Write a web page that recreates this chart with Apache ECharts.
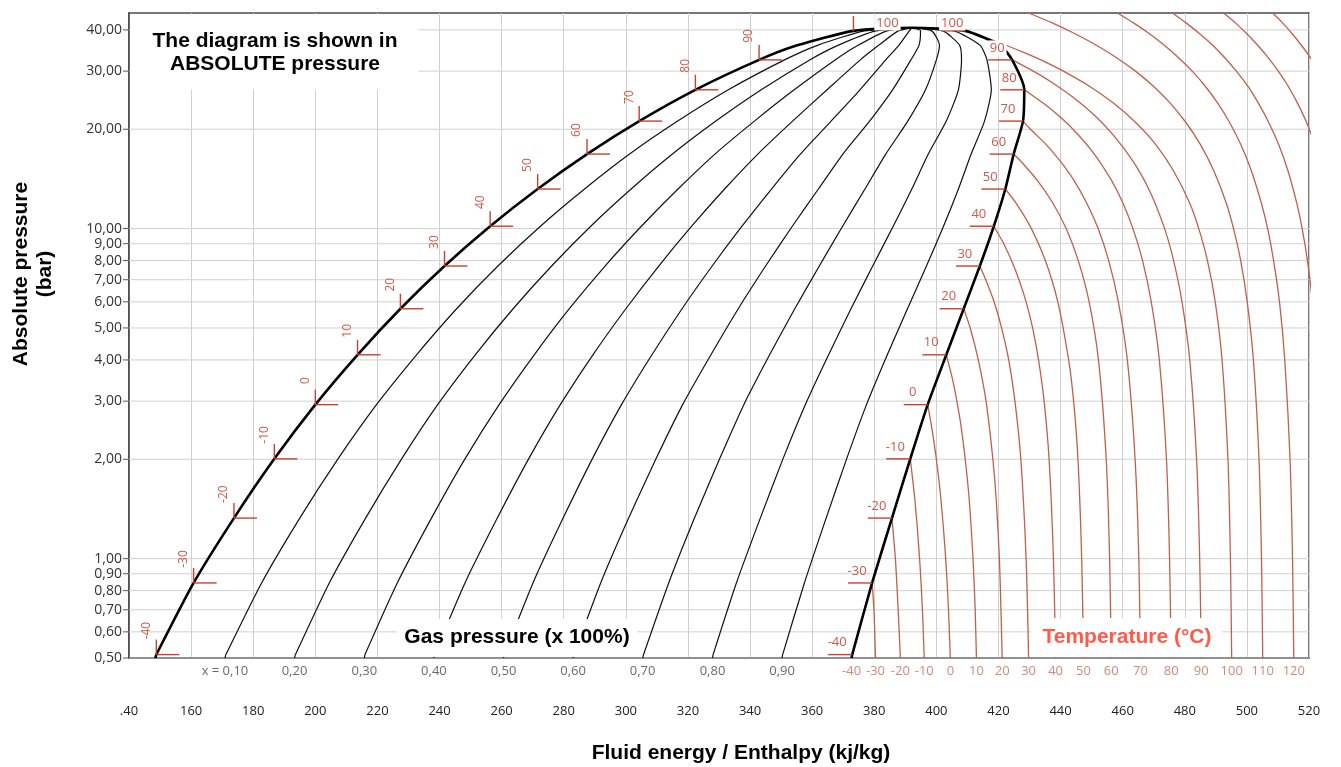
<!DOCTYPE html>
<html>
<head>
<meta charset="utf-8">
<script src="https://cdn.jsdelivr.net/npm/echarts/dist/echarts.min.js"></script>
<style>
html,body{margin:0;padding:0;background:#fff;}
#chart{width:1341px;height:767px;}
</style>
</head>
<body>
<div id="chart"></div>
<script>
// ---------- DATA (R134a pressure-enthalpy diagram) ----------
// Pressure grid / tick labels (bar, absolute)
const pressureTicks = [0.5, 0.6, 0.7, 0.8, 0.9, 1, 2, 3, 4, 5, 6, 7, 8, 9, 10, 20, 30, 40];

// Saturation table: temperature (°C), pressure (bar), liquid & vapour enthalpy (kJ/kg)
const satT  = [-40.3, -40, -30, -20, -10, 0, 10, 20, 30, 40, 50, 60, 70, 80, 90, 95, 100];
const satP  = [0.50, 0.512, 0.844, 1.327, 2.006, 2.928, 4.146, 5.717, 7.702, 10.166, 13.179, 16.818, 21.168, 26.332, 32.442, 35.912, 39.724];
const satHl = [148.5, 148.8, 160.8, 173.8, 186.8, 200.0, 213.6, 227.4, 241.6, 256.3, 271.6, 287.5, 304.3, 322.4, 342.9, 355.2, 373.3];
const satHv = [372.7, 372.9, 379.3, 385.7, 391.6, 397.2, 403.2, 408.8, 414.0, 418.5, 422.2, 424.9, 427.9, 428.3, 424.4, 420.6, 409.3];
const critH = 392.0;
const critP = 40.59;

// Constant-quality lines (enthalpy at each saturation pressure above)
const qualityNames = ['x = 0,10', '0,20', '0,30', '0,40', '0,50', '0,60', '0,70', '0,80', '0,90'];
const q10 = [170.9, 171.2, 182.7, 195.0, 207.3, 219.7, 232.6, 245.5, 258.8, 272.5, 286.7, 301.2, 316.7, 333.0, 351.1, 361.7, 376.9];
const q20 = [193.3, 193.6, 204.5, 216.2, 227.8, 239.4, 251.5, 263.7, 276.1, 288.7, 301.7, 315.0, 329.0, 343.6, 359.2, 368.3, 380.5];
const q30 = [215.8, 216.0, 226.4, 237.4, 248.2, 259.2, 270.5, 281.8, 293.3, 305.0, 316.8, 328.7, 341.4, 354.2, 367.4, 374.8, 384.1];
const q40 = [238.2, 238.4, 248.2, 258.6, 268.7, 278.9, 289.4, 300.0, 310.6, 321.2, 331.8, 342.5, 353.7, 364.8, 375.5, 381.4, 387.7];
const q50 = [260.6, 260.9, 270.1, 279.8, 289.2, 298.6, 308.4, 318.1, 327.8, 337.4, 346.9, 356.2, 366.1, 375.4, 383.7, 387.9, 391.3];
const q60 = [283.0, 283.3, 291.9, 300.9, 309.7, 318.3, 327.4, 336.2, 345.0, 353.6, 362.0, 369.9, 378.5, 385.9, 391.8, 394.4, 394.9];
const q70 = [305.4, 305.7, 313.8, 322.1, 330.2, 338.0, 346.3, 354.4, 362.3, 369.8, 377.0, 383.7, 390.8, 396.5, 400.0, 401.0, 398.5];
const q80 = [327.9, 328.1, 335.6, 343.3, 350.6, 357.8, 365.3, 372.5, 379.5, 386.1, 392.1, 397.4, 403.2, 407.1, 408.1, 407.5, 402.1];
const q90 = [350.3, 350.5, 357.5, 364.5, 371.1, 377.5, 384.2, 390.7, 396.8, 402.3, 407.1, 411.2, 415.5, 417.7, 416.3, 414.1, 405.7];

// Isotherms in the vapour region: [enthalpy, pressure]
const isoT = [-30, -20, -10, 0, 10, 20, 30, 40, 50, 60, 70, 80, 90, 100, 110, 120, 130, 140, 150];
const iso_m30 = [[379.3, 0.844], [379.9, 0.7], [380.4, 0.5]];
const iso_m20 = [[385.7, 1.327], [386.8, 1.0], [387.7, 0.7], [388.4, 0.5]];
const iso_m10 = [[391.6, 2.006], [393.1, 1.5], [394.6, 1.0], [395.5, 0.7], [396.1, 0.5]];
const iso_0   = [[397.2, 2.928], [398.5, 2.5], [400.0, 2.0], [401.5, 1.5], [403.0, 1.0], [403.9, 0.7], [404.5, 0.5]];
const iso_10  = [[403.2, 4.146], [405.2, 3.5], [406.6, 3.0], [408.0, 2.5], [409.3, 2.0], [410.6, 1.5], [411.8, 1.0], [412.5, 0.7], [412.9, 0.5]];
const iso_20  = [[408.8, 5.717], [410.9, 5.0], [413.5, 4.0], [416.0, 3.0], [418.2, 2.0], [419.3, 1.5], [420.3, 1.0], [420.8, 0.7], [421.2, 0.5]];
const iso_30  = [[414.0, 7.702], [415.9, 7.0], [418.6, 6.0], [421.0, 5.0], [423.3, 4.0], [425.3, 3.0], [427.2, 2.0], [428.9, 1.0], [429.7, 0.5]];
const iso_40  = [[418.5, 10.166], [421.7, 9.0], [424.2, 8.0], [426.6, 7.0], [428.9, 6.0], [431.0, 5.0], [432.9, 4.0], [434.7, 3.0], [436.3, 2.0], [437.7, 1.0], [438.4, 0.5]];
const iso_50  = [[422.2, 13.179], [425.5, 12.0], [430.6, 10.0], [435.1, 8.0], [439.1, 6.0], [442.6, 4.0], [444.2, 3.0], [445.6, 2.0], [446.8, 1.0], [447.4, 0.5]];
const iso_60  = [[424.9, 16.818], [427.2, 16.0], [432.5, 14.0], [437.4, 12.0], [441.8, 10.0], [445.7, 8.0], [449.2, 6.0], [452.2, 4.0], [454.7, 2.0], [455.8, 1.0], [456.3, 0.5]];
const iso_70  = [[427.9, 21.168], [430.3, 20.0], [435.3, 18.0], [439.9, 16.0], [444.3, 14.0], [448.3, 12.0], [452.1, 10.0], [455.5, 8.0], [458.6, 6.0], [461.5, 4.0], [464.0, 2.0], [465.2, 1.0], [465.7, 0.5]];
const iso_80  = [[428.3, 26.332], [429.2, 26.0], [434.4, 24.0], [439.3, 22.0], [444.0, 20.0], [450.5, 17.0], [456.4, 14.0], [460.0, 12.0], [463.3, 10.0], [466.4, 8.0], [469.2, 6.0], [471.8, 4.0], [474.1, 2.0], [475.1, 1.0], [475.6, 0.5]];
const iso_90  = [[424.4, 32.442], [425.7, 32.0], [431.2, 30.0], [436.5, 28.0], [444.0, 25.0], [451.0, 22.0], [457.4, 19.0], [463.3, 16.0], [468.7, 13.0], [473.5, 10.0], [476.4, 8.0], [479.1, 6.0], [481.6, 4.0], [483.8, 2.0], [484.8, 1.0], [485.3, 0.5]];
const iso_100 = [[409.3, 39.724], [411.9, 39.0], [415.4, 38.0], [422.2, 36.0], [428.7, 34.0], [435.0, 32.0], [440.9, 30.0], [449.3, 27.0], [457.0, 24.0], [464.1, 21.0], [470.6, 18.0], [476.3, 15.0], [481.5, 12.0], [484.5, 10.0], [487.3, 8.0], [489.8, 6.0], [492.0, 4.0], [493.9, 2.0], [494.7, 1.0], [495.1, 0.5]];
const iso_110 = [[429.7, 45], [437.3, 42], [444.5, 39], [451.4, 36], [457.9, 33], [464.1, 30], [469.9, 27], [475.3, 24], [480.3, 21], [485.0, 18], [489.3, 15], [493.3, 12], [495.7, 10], [498.0, 8], [500.1, 6], [502.1, 4], [503.9, 2], [504.7, 1], [505.1, 0.5]];
const iso_120 = [[458.3, 45], [463.5, 42], [468.5, 39], [473.3, 36], [477.9, 33], [482.4, 30], [486.6, 27], [490.6, 24], [494.4, 21], [498.0, 18], [501.4, 15], [504.6, 12], [506.7, 10], [508.6, 8], [510.5, 6], [512.2, 4], [513.9, 2], [514.7, 1], [515.1, 0.5]];
const iso_130 = [[476.0, 45], [480.4, 42], [484.7, 39], [488.9, 36], [492.8, 33], [496.6, 30], [500.3, 27], [503.7, 24], [507.0, 21], [510.2, 18], [513.2, 15], [516.0, 12], [517.8, 10], [519.5, 8], [521.1, 6], [522.7, 4]];
const iso_140 = [[492.5, 45], [496.3, 42], [499.9, 39], [503.4, 36], [506.8, 33], [510.1, 30], [513.3, 27], [516.3, 24], [519.2, 21], [521.9, 18]];
const iso_150 = [[508.3, 45], [511.5, 42], [514.5, 39], [517.5, 36], [520.4, 33], [523.2, 30]];

// Temperatures marked on the saturation curve
const markerT = [-40, -30, -20, -10, 0, 10, 20, 30, 40, 50, 60, 70, 80, 90, 100];

// ---------- BUILD OPTION ----------
const isoLines = [iso_m30, iso_m20, iso_m10, iso_0, iso_10, iso_20, iso_30, iso_40, iso_50, iso_60,
                  iso_70, iso_80, iso_90, iso_100, iso_110, iso_120, iso_130, iso_140, iso_150];
const qualityLines = [q10, q20, q30, q40, q50, q60, q70, q80, q90];

const RED_LINE = '#c0604a';
const RED_TICK = '#c8402f';
const RED_LABEL = '#cd5a48';
const TICK_FONT = '"Open Sans", "Noto Sans", sans-serif';
const BOLD_FONT = '"Liberation Sans", Arial, sans-serif';

const chart = echarts.init(document.getElementById('chart'), null, {renderer: 'canvas'});

const series = [];

// horizontal grid lines + y-axis ticks/labels (log axis custom ticks)
series.push({
  type: 'custom', z: 1, silent: true, clip: false, animation: false,
  data: pressureTicks.map(v => [140, v]),
  encode: {x: 0, y: 1},
  renderItem: function (params, api) {
    const v = api.value(1);
    const a = api.coord([140, v]);
    const b = api.coord([520, v]);
    const children = [];
    children.push({type: 'line', shape: {x1: a[0], y1: a[1], x2: b[0], y2: b[1]},
                   style: {stroke: '#d0d0d0', lineWidth: 1}});
    children.push({type: 'line', shape: {x1: a[0] - 6, y1: a[1], x2: a[0], y2: a[1]},
                   style: {stroke: '#555', lineWidth: 1}});
    children.push({type: 'text', x: a[0] - 7, y: a[1],
                   style: {text: v.toFixed(2).replace('.', ','), fill: '#333',
                           font: '14px ' + TICK_FONT, align: 'right', verticalAlign: 'middle'}});
    return {type: 'group', children: children};
  }
});

// isotherms
isoLines.forEach((pts, i) => {
  series.push({
    type: 'line', name: 'T' + isoT[i], data: pts, symbol: 'none', showSymbol: false,
    smooth: 0.25, z: 2, silent: true, animation: false,
    lineStyle: {color: RED_LINE, width: 1.3}
  });
});

// quality lines
qualityLines.forEach((q, j) => {
  const pts = satP.map((p, i) => [q[i], p]);
  pts.push([critH, critP]);
  series.push({
    type: 'line', name: qualityNames[j], data: pts, symbol: 'none', showSymbol: false,
    smooth: 0.2, z: 3, silent: true, animation: false,
    lineStyle: {color: '#111', width: 1.2}
  });
});

// saturation dome
const domePts = satP.map((p, i) => [satHl[i], p]);
domePts.push([critH, critP]);
for (let i = satP.length - 1; i >= 0; i--) domePts.push([satHv[i], satP[i]]);
series.push({
  type: 'line', name: 'saturation', data: domePts, symbol: 'none', showSymbol: false,
  smooth: 0.2, z: 4, silent: true, animation: false,
  lineStyle: {color: '#000', width: 2.6}
});

// temperature markers on liquid side
const liqMarkers = markerT.map(T => { const i = satT.indexOf(T); return [satHl[i], satP[i], T]; });
series.push({
  type: 'custom', z: 5, silent: true, clip: false, animation: false,
  data: liqMarkers, encode: {x: 0, y: 1},
  renderItem: function (params, api) {
    const p = api.coord([api.value(0), api.value(1)]);
    const T = api.value(2);
    const children = [
      {type: 'line', shape: {x1: p[0], y1: p[1], x2: p[0], y2: p[1] - 15}, style: {stroke: RED_TICK, lineWidth: 1.4}}
    ];
    if (T === 100) {
      children.push({type: 'text', x: p[0] + 34, y: p[1] - 8,
        style: {text: String(T), fill: RED_LABEL, font: '13px ' + TICK_FONT, align: 'center',
                verticalAlign: 'middle', backgroundColor: '#fff', padding: [1, 2]}});
    } else {
      children.push({type: 'line', shape: {x1: p[0], y1: p[1], x2: p[0] + 23, y2: p[1]}, style: {stroke: RED_TICK, lineWidth: 1.4}});
      children.push({type: 'text', x: p[0] - 10, y: p[1] - 24, rotation: Math.PI / 2,
        style: {text: String(T), fill: RED_LABEL, font: '12px ' + TICK_FONT, align: 'center', verticalAlign: 'middle'}});
    }
    return {type: 'group', children: children};
  }
});

// temperature markers on vapour side
const vapMarkers = markerT.map(T => { const i = satT.indexOf(T); return [satHv[i], satP[i], T]; });
series.push({
  type: 'custom', z: 5, silent: true, clip: false, animation: false,
  data: vapMarkers, encode: {x: 0, y: 1},
  renderItem: function (params, api) {
    const p = api.coord([api.value(0), api.value(1)]);
    const T = api.value(2);
    const children = [
      {type: 'line', shape: {x1: p[0] - 24, y1: p[1], x2: p[0], y2: p[1]}, style: {stroke: RED_TICK, lineWidth: 1.4}}
    ];
    const top = T >= 90;
    children.push({type: 'text', x: p[0] - (T === 100 ? 13 : 15), y: p[1] - (T === 100 ? 8 : 12),
      style: {text: String(T), fill: RED_LABEL, font: '13px ' + TICK_FONT, align: 'center',
              verticalAlign: 'middle', backgroundColor: top ? '#fff' : 'transparent', padding: [1, 2]}});
    return {type: 'group', children: children};
  }
});

// quality labels under the axis
series.push({
  type: 'scatter', z: 6, silent: true, clip: false, animation: false, symbolSize: 0,
  data: qualityLines.map((q, j) => [q[0], satP[0], qualityNames[j]]),
  label: {show: true, position: 'bottom', distance: 7, formatter: p => p.data[2],
          color: '#444', fontSize: 13, fontFamily: TICK_FONT}
});

// temperature labels under the axis
const bottomTemps = [[satHv[0], satP[0], String(markerT[0])]];
isoLines.forEach((pts, i) => {
  const last = pts[pts.length - 1];
  if (last[1] === 0.5) bottomTemps.push([last[0], last[1], String(isoT[i])]);
});
series.push({
  type: 'scatter', z: 6, silent: true, clip: false, animation: false, symbolSize: 0,
  data: bottomTemps,
  label: {show: true, position: 'bottom', distance: 7, formatter: p => p.data[2],
          color: '#c86a55', fontSize: 13, fontFamily: TICK_FONT}
});

const option = {
  animation: false,
  backgroundColor: '#fff',
  grid: {left: 129, top: 13, right: 32, bottom: 109, show: true, borderColor: '#4a4a4a',
         borderWidth: 1.5, backgroundColor: 'transparent', containLabel: false, outerBoundsMode: 'none'},
  xAxis: {
    type: 'value', min: 140, max: 520, interval: 20,
    axisLine: {show: true, onZero: false, lineStyle: {color: '#444', width: 1.5}},
    axisTick: {show: false},
    axisLabel: {margin: 47, fontSize: 13, color: '#222', fontFamily: TICK_FONT,
                showMinLabel: true, showMaxLabel: true, hideOverlap: false,
                formatter: v => (v === 140 ? '.40' : String(v))},
    splitLine: {show: true, lineStyle: {color: '#d0d0d0', width: 1}}
  },
  yAxis: {
    type: 'log', logBase: 10, min: 0.5, max: 45,
    axisLine: {show: true, onZero: false, lineStyle: {color: '#444', width: 1.5}},
    axisTick: {show: false},
    axisLabel: {show: false},
    splitLine: {show: false},
    minorTick: {show: false}, minorSplitLine: {show: false}
  },
  graphic: [
    {type: 'rect', z: 100, shape: {x: 130.5, y: 14.5, width: 288, height: 75}, style: {fill: '#fff'}},
    {type: 'text', z: 101, x: 275, y: 53,
     style: {text: 'The diagram is shown in\nABSOLUTE pressure', fill: '#000',
             font: 'bold 21px ' + BOLD_FONT, align: 'center', verticalAlign: 'middle', lineHeight: 23}},
    {type: 'rect', z: 100, shape: {x: 397, y: 619, width: 240, height: 38}, style: {fill: '#fff'}},
    {type: 'text', z: 101, x: 517, y: 637.5,
     style: {text: 'Gas pressure (x 100%)', fill: '#000', font: 'bold 21px ' + BOLD_FONT,
             align: 'center', verticalAlign: 'middle'}},
    {type: 'rect', z: 100, shape: {x: 1031, y: 618, width: 191, height: 39}, style: {fill: '#fff'}},
    {type: 'text', z: 101, x: 1127, y: 637,
     style: {text: 'Temperature (°C)', fill: '#ff5a4a', font: 'bold 21px ' + BOLD_FONT,
             align: 'center', verticalAlign: 'middle'}},
    {type: 'text', z: 101, x: 33, y: 274, rotation: Math.PI / 2,
     style: {text: 'Absolute pressure\n(bar)', fill: '#000', font: 'bold 21px ' + BOLD_FONT,
             align: 'center', verticalAlign: 'middle', lineHeight: 24}},
    {type: 'text', z: 101, x: 741, y: 753,
     style: {text: 'Fluid energy / Enthalpy (kj/kg)', fill: '#000', font: 'bold 21px ' + BOLD_FONT,
             align: 'center', verticalAlign: 'middle'}}
  ],
  series: series
};

chart.setOption(option);
</script>
</body>
</html>
